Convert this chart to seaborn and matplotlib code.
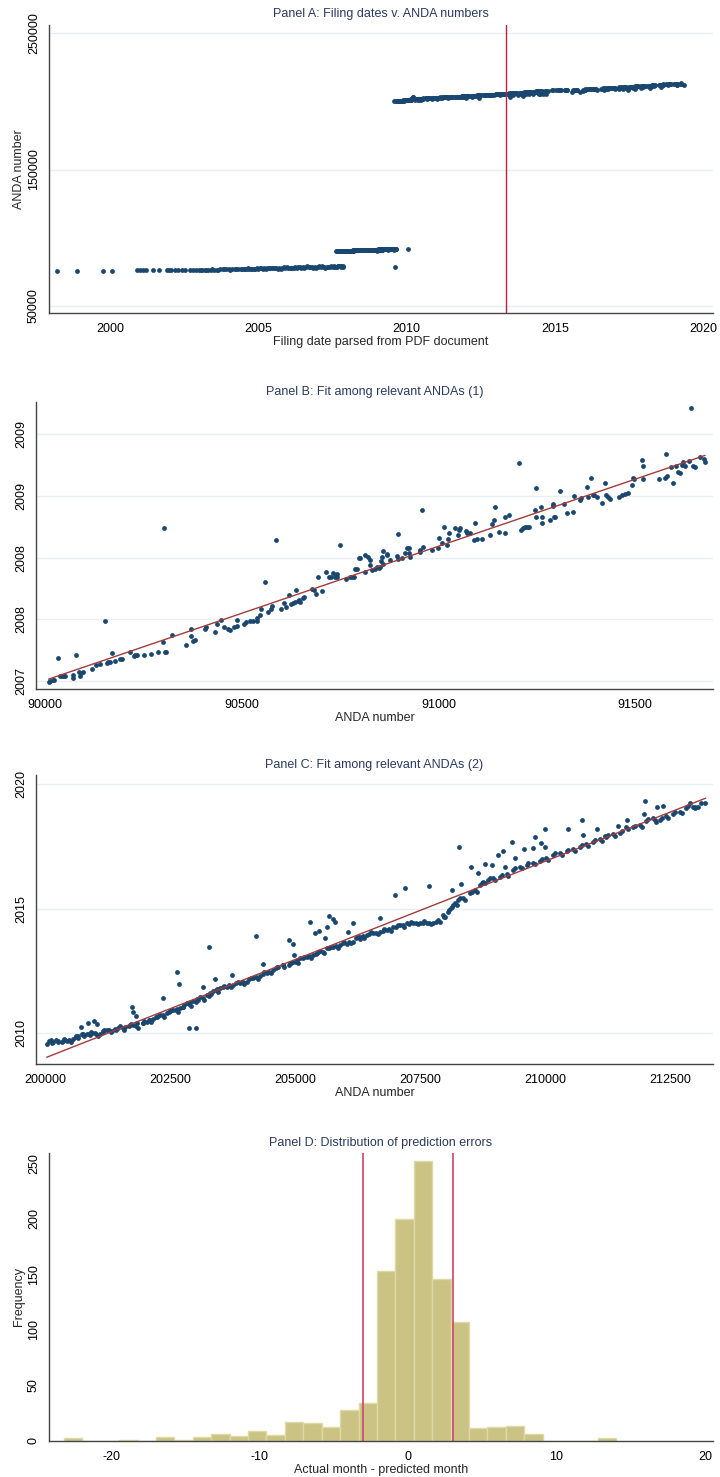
import numpy as np
import pandas as pd
import matplotlib
matplotlib.use("Agg")
import matplotlib.pyplot as plt
import seaborn as sns

# ---------------- DATA ----------------
# Panel A, early block of ANDAs (filing year, ANDA number) not shown in panels B/C
a_early_year = [1998.20, 1998.90, 1999.75, 2000.07, 2000.92, 2001.00, 2001.10, 2001.21, 2001.44, 2001.66,
                2001.91, 2001.97, 2002.04, 2002.19, 2002.30, 2002.42, 2002.53, 2002.70,
                2002.81, 2002.90, 2003.00, 2003.10, 2003.20, 2003.30, 2003.40, 2003.50, 2003.60, 2003.70,
                2003.80, 2003.90, 2004.00, 2004.10, 2004.20, 2004.30, 2004.40, 2004.50, 2004.60, 2004.70,
                2004.80, 2004.90, 2005.00, 2005.10, 2005.20, 2005.30, 2005.40, 2005.50, 2005.60, 2005.70,
                2005.80, 2005.90, 2006.00, 2006.10, 2006.20, 2006.30, 2006.40, 2006.50, 2006.60, 2006.70,
                2006.80, 2006.90, 2007.00, 2007.10, 2007.20, 2007.30, 2007.40, 2007.50, 2007.60, 2007.70,
                2007.80, 2007.87,
                2005.55, 2005.75, 2005.95, 2006.15, 2006.35, 2006.55, 2006.75, 2006.95, 2007.15, 2007.35,
                2007.55, 2007.65, 2007.75, 2007.85, 2004.55, 2004.75, 2004.95, 2005.15, 2005.35,
                2003.05, 2003.25, 2003.45, 2003.65, 2003.85, 2004.05, 2004.25, 2004.45, 2004.65, 2004.85,
                2005.05, 2005.25, 2005.45, 2005.65, 2005.85, 2006.05, 2006.25, 2006.45, 2006.65, 2006.85,
                2007.05, 2007.25, 2007.45, 2007.60, 2007.70, 2007.80,
                2009.61]
a_early_anda = [75460, 75460, 75700, 75700, 75950, 75950, 75950, 75950, 76000, 76000,
                76100, 76100, 76100, 76150, 76150, 76200, 76200, 76250,
                76200, 76250, 76300, 76350, 76400, 76400, 76450, 76500, 76550, 76600,
                76650, 76700, 76750, 76800, 76850, 76900, 76950, 77000, 77050, 77100,
                77150, 77200, 77300, 77350, 77400, 77450, 77500, 77550, 77600, 77650,
                77700, 77800, 77850, 77900, 77950, 78000, 78050, 78100, 78150, 78250,
                78300, 78350, 78400, 78450, 78500, 78550, 78600, 78650, 78700, 78800,
                78850, 78900,
                77950, 77300, 78150, 77600, 78400, 77800, 78700, 78000, 79000, 78200,
                79300, 78400, 79400, 78500, 77300, 76800, 77500, 77000, 77800,
                76500, 76250, 76700, 76400, 76900, 76550, 77100, 76700, 77350, 76900,
                77700, 77100, 77900, 77300, 78200, 77500, 78500, 77700, 78800, 77900,
                79100, 78000, 79200, 78200, 79500, 78300,
                78640]
a_cutoff_year = 2013.36

# Panel B: ANDA number vs filing date (Stata daily date, days since 1960-01-01)
b_anda = [90009, 90013, 90020, 90023, 90032, 90039, 90043, 90047, 90051, 90071, 90072, 90079, 90086, 90089,
          90092, 90096, 90119, 90130, 90140, 90153, 90157, 90161, 90166, 90170, 90178, 90191, 90195, 90216,
          90225, 90229, 90233, 90252, 90269, 90286, 90299, 90303, 90305, 90308, 90322, 90358, 90371, 90371,
          90376, 90382, 90407, 90410, 90433, 90437, 90448, 90456, 90465, 90471, 90481, 90488, 90489, 90505,
          90511, 90520, 90528, 90538, 90540, 90547, 90549, 90560, 90568, 90574, 90577, 90588, 90600, 90607,
          90613, 90620, 90625, 90630, 90636, 90638, 90642, 90646, 90649, 90655, 90659, 90678, 90684, 90688,
          90695, 90704, 90713, 90723, 90727, 90732, 90738, 90740, 90742, 90743, 90749, 90764, 90774, 90780,
          90786, 90788, 90792, 90797,
          90801, 90814, 90814, 90822, 90826, 90826, 90831, 90839, 90843, 90848, 90852, 90854, 90856, 90858,
          90860, 90869, 90870, 90876, 90897, 90894, 90896, 90907, 90915, 90920, 90924, 90926, 90928, 90954,
          90954, 90958, 90962, 90983, 90998, 91002, 91009, 91013, 91021, 91024, 91026, 91041, 91051, 91053,
          91055, 91070, 91072, 91079, 91091, 91093, 91099, 91110, 91130, 91137, 91142, 91144, 91153, 91170,
          91170, 91180, 91205, 91210, 91216, 91220, 91226, 91229, 91246, 91248, 91248, 91260, 91263, 91264,
          91284, 91290, 91291, 91294, 91297, 91308, 91318, 91328, 91341, 91345, 91360, 91362, 91377, 91381,
          91388, 91392, 91396, 91403, 91417, 91424, 91426, 91430, 91435, 91458, 91466, 91475, 91481, 91492,
          91494, 91496, 91517, 91519, 91519, 91561, 91576, 91579, 91580, 91591, 91596, 91604, 91610, 91614,
          91619, 91623, 91627, 91636, 91642, 91648, 91653, 91665, 91674, 91678]
b_day = [17398, 17401, 17402, 17403, 17476, 17416, 17416, 17415, 17416, 17420, 17411, 17484, 17430, 17417,
         17425, 17430, 17440, 17452, 17454, 17594, 17457, 17460, 17463, 17492, 17465, 17470, 17471, 17493,
         17481, 17483, 17483, 17484, 17488, 17493, 17526, 17896, 17495, 17495, 17548, 17517, 17570, 17545,
         17531, 17533, 17570, 17576, 17560, 17584, 17598, 17576, 17570, 17564, 17576, 17598, 17578, 17584,
         17592, 17596, 17596, 17603, 17596, 17614, 17632, 17721, 17623, 17634, 17644, 17856, 17632, 17654,
         17641, 17679, 17650, 17654, 17657, 17694, 17660, 17663, 17656, 17668, 17671, 17697, 17695, 17682,
         17736, 17693, 17754, 17737, 17737, 17751, 17738, 17740, 17746, 17737, 17842, 17731, 17736, 17736,
         17736, 17762, 17762, 17798,
         17800, 17809, 17752, 17803, 17794, 17775, 17760, 17762, 17771, 17766, 17771, 17789, 17803, 17823,
         17780, 17813, 17809, 17792, 17876, 17806, 17797, 17798, 17814, 17830, 17832, 17814, 17803, 17820,
         17825, 17954, 17834, 17825, 17832, 17863, 17849, 17898, 17841, 17860, 17881, 17897, 17874, 17890,
         17897, 17888, 17881, 17879, 17857, 17914, 17860, 17860, 17874, 17909, 17922, 17963, 17882, 17933,
         17881, 17938, 18106, 17890, 17897, 17898, 17900, 17900, 17954, 18027, 17933, 17963, 17933, 17914,
         17922, 17973, 17968, 17933, 17931, 18016, 17973, 17946, 17947, 18000, 17987, 17992, 18030, 17998,
         18060, 18003, 18003, 17998, 17978, 18041, 18003, 17996, 17991, 17998, 18003, 18006, 18009, 18036,
         18060, 18054, 18117, 18097, 18054, 18054, 18060, 18136, 18065, 18093, 18043, 18097, 18079, 18076,
         18100, 18111, 18097, 18114, 18284, 18097, 18095, 18128, 18119, 18109]
b_fit_anda = [90009, 91678]
b_fit_day = [17406, 18132]
b_ticks_day = [17400, 17600, 17800, 18000, 18200]
b_ticks_anda = [90000, 90500, 91000, 91500]

# Panel C: ANDA number vs filing year
c_anda = [200020, 200120, 200154, 200254, 200320, 200387, 200420, 200540, 200607, 200654, 200721, 200754,
          200821, 200887, 200921, 200988, 201088, 201154, 201221, 201321, 201388, 201488, 201588, 201688,
          201755, 201822, 201955, 202022, 202088, 202155, 202222, 202289, 202422, 202489, 202555, 202622,
          202689, 202756, 202822, 202889, 202956, 203022, 203089, 203223, 203289, 203356, 203423, 203490,
          203623, 203756, 203890, 204023, 204157, 204290, 204424, 204557, 204624, 204757, 204891, 204957,
          205024, 205091, 205224, 205358, 205424, 205491, 205625, 205758, 205891, 206025, 206158, 206292,
          200700, 200854, 200968, 201021, 201721, 201741, 201808, 202355, 202622, 202676, 202869, 203003,
          203143, 203269, 203389, 203736, 204210, 204357, 204877, 204957, 204977, 205291, 205398, 205478,
          205591, 205638, 205678, 205758, 205791, 206058, 206145,
          206291, 206424, 206558, 206691, 206825, 206958, 207092, 207225, 207359, 207492, 207625, 207759,
          207892, 207992, 208059, 208126, 208192, 208259, 208359, 208493, 208593, 208693, 208760, 208860,
          208960, 209093, 209227, 209360, 209494, 209627, 209760, 209894, 210027, 210161, 210294, 210428,
          210561, 210695, 210828, 210961, 211095, 211228, 211362, 211495, 211629, 211762, 211895, 212029,
          212162, 212229, 212296, 212429, 212563, 212696, 212830, 212963, 213063, 213130, 213210,
          206691, 206992, 207192, 207672, 208126, 208279, 208306, 208513, 208660, 208793, 208946, 209060,
          209160, 209193, 209327, 209394, 209580, 209760, 209807, 209927, 210007, 209994, 210461, 210748,
          210761, 211041, 211195, 211462, 211642, 211995, 211982, 212249, 212362, 212896, 212996,
          # additional points read along the dense band
          200073, 200206, 200340, 200473, 200607, 200740, 200874, 201007, 201140, 201274, 201407, 201541,
          201674, 201808, 201941, 202074, 202208, 202341, 202475, 202608, 202742, 202875, 203009, 203142,
          203275, 203409, 203542, 203676, 203809, 203943, 204076, 204210, 204343, 204476, 204610, 204743,
          204877, 205010, 205144, 205277, 205410, 205544, 205677, 205811, 205944, 206078, 206211, 206345,
          206478, 206611, 206745, 206878, 207012, 207145, 207279, 207412, 207546, 207679, 207812, 207946,
          208079,
          200108, 200241, 200375, 200508, 200642, 200775, 200909, 201042, 201175, 201309, 201442, 201576,
          201709, 201843, 201976, 202109, 202243, 202376, 202510, 202643, 202777, 202910, 203044, 203177,
          203310, 203444, 203577, 203711, 203844, 203978, 204111, 204245, 204378, 204511, 204645, 204778,
          204912, 205045, 205179, 205312, 205445, 205579, 205712, 205846, 205979, 206113, 206246, 206380,
          206513, 206646, 206780, 206913, 207047, 207180, 207314, 207447, 207581, 207714, 207847, 207981,
          208114,
          208161, 208227, 208294, 208394, 208528, 208628, 208728, 208795, 208895, 208995, 209128, 209262,
          209395, 209529, 209662, 209795, 209929, 210062, 210196, 210329, 210463, 210596, 210730, 210863,
          210996, 211130, 211263, 211397, 211530, 211664, 211797, 211930, 212064, 212197, 212331, 212464,
          212598, 212731, 212865, 212998]
c_year = [2009.57, 2009.63, 2009.67, 2009.71, 2009.67, 2009.73, 2009.71, 2009.77, 2009.89, 2009.81, 2009.97, 2009.97,
          2009.97, 2009.93, 2010.00, 2010.00, 2009.97, 2010.11, 2010.13, 2010.09, 2010.16, 2010.29, 2010.27, 2010.33,
          2010.33, 2010.40, 2010.40, 2010.47, 2010.54, 2010.56, 2010.64, 2010.74, 2010.80, 2010.91, 2010.94, 2010.98,
          2011.02, 2011.07, 2011.20, 2011.27, 2011.31, 2011.37, 2011.45, 2011.54, 2011.63, 2011.71, 2011.77, 2011.81,
          2011.87, 2011.94, 2012.01, 2012.07, 2012.21, 2012.30, 2012.41, 2012.54, 2012.65, 2012.74, 2012.81, 2012.88,
          2012.95, 2013.01, 2013.08, 2013.15, 2013.24, 2013.32, 2013.41, 2013.48, 2013.53, 2013.59, 2013.68, 2013.79,
          2010.27, 2010.43, 2010.50, 2010.37, 2011.04, 2010.87, 2010.70, 2011.41, 2012.45, 2011.99, 2010.23, 2010.23,
          2011.87, 2013.48, 2012.20, 2012.36, 2013.92, 2012.78, 2013.75, 2013.59, 2013.15, 2014.46, 2014.02, 2014.12,
          2013.84, 2014.26, 2014.71, 2014.59, 2014.48, 2014.08, 2014.44,
          2013.88, 2013.95, 2014.02, 2014.08, 2014.15, 2014.28, 2014.35, 2014.42, 2014.44, 2014.44, 2014.44, 2014.44,
          2014.48, 2014.69, 2014.89, 2015.09, 2015.22, 2015.35, 2015.42, 2015.62, 2015.76, 2015.96, 2016.09, 2016.16,
          2016.22, 2016.29, 2016.40, 2016.56, 2016.69, 2016.76, 2016.85, 2016.93, 2017.03, 2017.16, 2017.23, 2017.30,
          2017.39, 2017.50, 2017.60, 2017.70, 2017.79, 2017.90, 2018.01, 2018.06, 2018.27, 2018.27, 2018.37, 2018.54,
          2018.63, 2018.50, 2018.57, 2018.73, 2018.81, 2018.90, 2019.04, 2019.10, 2019.10, 2019.24, 2019.24,
          2014.62, 2015.56, 2015.85, 2015.93, 2015.76, 2017.46, 2016.00, 2016.67, 2016.43, 2016.80, 2016.76, 2017.16,
          2017.30, 2016.69, 2017.70, 2017.03, 2017.39, 2017.42, 2017.90, 2017.63, 2018.21, 2017.50, 2018.19, 2018.57,
          2017.97, 2018.21, 2017.93, 2018.33, 2018.57, 2019.34, 2018.81, 2019.10, 2019.13, 2019.26, 2019.10,
          # additional points read along the dense band
          2009.68, 2009.73, 2009.70, 2009.73, 2009.84, 2009.95, 2009.97, 2009.97, 2010.07, 2010.13, 2010.13, 2010.20,
          2010.29, 2010.29, 2010.43, 2010.53, 2010.64, 2010.73, 2010.87, 2010.94, 2011.07, 2011.18, 2011.27, 2011.40,
          2011.50, 2011.74, 2011.85, 2011.94, 2012.01, 2012.07, 2012.17, 2012.27, 2012.38, 2012.48, 2012.61, 2012.74,
          2012.74, 2012.88, 2013.01, 2013.10, 2013.18, 2013.28, 2013.41, 2013.51, 2013.61, 2013.68, 2013.81, 2013.91,
          2013.99, 2014.04, 2014.12, 2014.18, 2014.28, 2014.35, 2014.39, 2014.42, 2014.42, 2014.44, 2014.48, 2014.75,
          2014.95,
          2009.75, 2009.66, 2009.77, 2009.66, 2009.91, 2009.88, 2010.04, 2009.90, 2010.14, 2010.06, 2010.20, 2010.13,
          2010.36, 2010.22, 2010.50, 2010.46, 2010.71, 2010.66, 2010.94, 2010.87, 2011.14, 2011.11, 2011.34, 2011.33,
          2011.57, 2011.67, 2011.92, 2011.87, 2012.08, 2012.00, 2012.24, 2012.20, 2012.45, 2012.41, 2012.68, 2012.67,
          2012.81, 2012.81, 2013.08, 2013.03, 2013.25, 2013.21, 2013.48, 2013.44, 2013.68, 2013.61, 2013.88, 2013.84,
          2014.06, 2013.97, 2014.19, 2014.11, 2014.35, 2014.28, 2014.46, 2014.37, 2014.49, 2014.39, 2014.55, 2014.68,
          2015.02,
          2015.16, 2015.15, 2015.42, 2015.35, 2015.69, 2015.69, 2016.03, 2016.02, 2016.23, 2016.15, 2016.36, 2016.33,
          2016.63, 2016.62, 2016.83, 2016.78, 2017.00, 2016.96, 2017.23, 2017.16, 2017.37, 2017.32, 2017.57, 2017.53,
          2017.77, 2017.72, 2017.97, 2017.94, 2018.13, 2018.20, 2018.34, 2018.30, 2018.61, 2018.56, 2018.64, 2018.66,
          2018.88, 2018.83, 2019.11, 2019.03]
c_fit_anda = [200020, 213214]
c_fit_year = [2009.04, 2019.44]

# Panel D: histogram of prediction errors (30 bins)
d_bin_start = -23.175
d_bin_width = 1.24
d_counts = [2, 0, 0, 1, 0, 3, 1, 3, 6, 4, 9, 5, 17, 16, 12, 28, 34, 153, 200, 252,
            146, 107, 11, 12, 13, 6, 0, 0, 0, 2]
d_band = [-3, 3]

# ---------------- STYLE ----------------
sns.set_theme(style="white")
plt.rcParams['font.family'] = ['Liberation Sans', 'DejaVu Sans']
FS = 9
NAVY = '#1a476f'
AXC = '#444444'
GRIDC = '#e6eff1'
TITLEC = '#2b3a5e'
MS = 12

fig = plt.figure(figsize=(7.2, 14.77), dpi=100)
H = 1477.0
W = 720.0


def make_ax(l, r, t, b):
    return fig.add_axes([l / W, 1 - b / H, (r - l) / W, (b - t) / H])


def style_ax(ax, grid=True):
    for s in ['top', 'right']:
        ax.spines[s].set_visible(False)
    for s in ['left', 'bottom']:
        ax.spines[s].set_color(AXC)
        ax.spines[s].set_linewidth(1.0)
    ax.tick_params(axis='both', which='major', direction='out', length=5, width=1,
                   color=AXC, labelsize=FS, labelcolor='black', pad=2)
    ax.tick_params(axis='y', pad=1.5)
    ax.set_facecolor('white')
    if grid:
        ax.yaxis.grid(True, color=GRIDC, linewidth=1.0)
        ax.set_axisbelow(True)
    ax.xaxis.grid(False)


def rot_y(ax):
    for lbl in ax.get_yticklabels():
        lbl.set_rotation(90)
        lbl.set_va('center')


def to_year(days):
    return [1960 + d / 365.25 for d in days]


# ---------------- Panel A ----------------
axA = make_ax(49, 713, 25, 313)
a_x = list(a_early_year) + to_year(b_day) + list(c_year)
a_y = list(a_early_anda) + list(b_anda) + list(c_anda)
sns.scatterplot(x=a_x, y=a_y, ax=axA, color=NAVY, s=MS, linewidth=0, legend=False)
axA.axvline(a_cutoff_year, color='#c21f3a', linewidth=1.0)
axA.set_xlim(1997.94, 2020.33)
axA.set_ylim(44640, 256100)
axA.set_xticks([2000, 2005, 2010, 2015, 2020])
axA.set_yticks([50000, 150000, 250000])
style_ax(axA)
axA.set_xticklabels(['2000', '2005', '2010', '2015', '2020'])
axA.set_yticklabels(['50000', '150000', '250000'])
rot_y(axA)
axA.set_xlabel('Filing date parsed from PDF document', fontsize=FS, labelpad=1)
axA.set_ylabel('ANDA number', fontsize=FS, labelpad=2)
axA.set_title('Panel A: Filing dates v. ANDA numbers', fontsize=FS, color=TITLEC, pad=5.5)

# ---------------- Panel B ----------------
axB = make_ax(36, 713, 401.7, 689.3)
sns.scatterplot(x=b_anda, y=b_day, ax=axB, color=NAVY, s=MS, linewidth=0, legend=False)
sns.lineplot(x=b_fit_anda, y=b_fit_day, ax=axB, color='#a33b3b', linewidth=1.0)
axB.set_xlim(89977, 91698)
axB.set_ylim(17373, 18306)
axB.set_xticks(b_ticks_anda)
axB.set_yticks(b_ticks_day)
style_ax(axB)
axB.set_xticklabels([str(v) for v in b_ticks_anda])
axB.set_yticklabels([str((pd.Timestamp('1960-01-01') + pd.Timedelta(days=d)).year) for d in b_ticks_day])
rot_y(axB)
axB.set_xlabel('ANDA number', fontsize=FS, labelpad=1)
axB.set_ylabel('')
axB.set_title('Panel B: Fit among relevant ANDAs (1)', fontsize=FS, color=TITLEC, pad=5)

# ---------------- Panel C ----------------
axC = make_ax(36, 713, 775, 1064)
sns.scatterplot(x=c_anda, y=c_year, ax=axC, color=NAVY, s=MS, linewidth=0, legend=False)
sns.lineplot(x=c_fit_anda, y=c_fit_year, ax=axC, color='#a33b3b', linewidth=1.0)
axC.set_xlim(199806, 213361)
axC.set_ylim(2008.77, 2020.37)
c_xt = [200000, 202500, 205000, 207500, 210000, 212500]
axC.set_xticks(c_xt)
axC.set_yticks([2010, 2015, 2020])
style_ax(axC)
axC.set_xticklabels([str(v) for v in c_xt])
axC.set_yticklabels(['2010', '2015', '2020'])
rot_y(axC)
axC.set_xlabel('ANDA number', fontsize=FS, labelpad=1)
axC.set_ylabel('')
axC.set_title('Panel C: Fit among relevant ANDAs (2)', fontsize=FS, color=TITLEC, pad=5)

# ---------------- Panel D ----------------
axD = make_ax(49, 713, 1153, 1441)
d_edges = [float(e) for e in np.linspace(d_bin_start, d_bin_start + d_bin_width * len(d_counts), len(d_counts) + 1)]
d_df = pd.DataFrame({
    'err': [(d_edges[i] + d_edges[i + 1]) / 2 for i in range(len(d_counts))],
    'n': d_counts,
})
sns.histplot(data=d_df, x='err', weights='n', bins=d_edges, ax=axD, color='#cbc383',
             edgecolor='#dedaa8', linewidth=1.0, alpha=1.0, stat='count')
for v in d_band:
    axD.axvline(v, color='#d4506f', linewidth=1.3)
axD.set_xlim(-24.18, 20.54)
axD.set_ylim(-0.3, 259.3)
axD.set_xticks([-20, -10, 0, 10, 20])
axD.set_yticks([0, 50, 100, 150, 200, 250])
style_ax(axD, grid=False)
axD.set_xticklabels(['-20', '-10', '0', '10', '20'])
axD.set_yticklabels(['0', '50', '100', '150', '200', '250'])
rot_y(axD)
axD.set_xlabel('Actual month - predicted month', fontsize=FS, labelpad=1)
axD.set_ylabel('Frequency', fontsize=FS, labelpad=2)
axD.set_title('Panel D: Distribution of prediction errors', fontsize=FS, color=TITLEC, pad=5)

fig.savefig('out.png', dpi=100, facecolor='white')
